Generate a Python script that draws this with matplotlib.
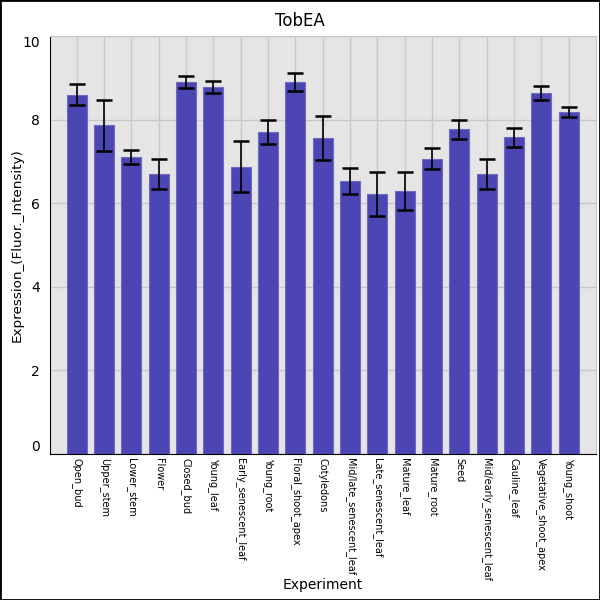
import matplotlib
matplotlib.use("Agg")
from matplotlib import pyplot as plt
from matplotlib.patches import Rectangle

experiments = ["Open_bud", "Upper_stem", "Lower_stem", "Flower", "Closed_bud",
               "Young_leaf", "Early_senescent_leaf", "Young_root", "Floral_shoot_apex",
               "Cotyledons", "Mid/late_senescent_leaf", "Late_senescent_leaf",
               "Mature_leaf", "Mature_root", "Seed", "Mid/early_senescent_leaf",
               "Cauline_leaf", "Vegetative_shoot_apex", "Young_shoot"]
expression = [8.60, 7.86, 7.11, 6.70, 8.90, 8.78, 6.87, 7.70, 8.90, 7.56,
              6.53, 6.22, 6.29, 7.06, 7.77, 6.70, 7.58, 8.64, 8.18]
errors = [0.24, 0.60, 0.17, 0.36, 0.14, 0.15, 0.61, 0.28, 0.21, 0.53,
          0.31, 0.53, 0.45, 0.25, 0.23, 0.35, 0.23, 0.16, 0.11]
yticks = [0, 2, 4, 6, 8, 10]

fig = plt.figure(figsize=(6, 6), dpi=100)
ax = fig.add_axes([0.0825, 0.2433, 0.9108, 0.6967])
ax.set_facecolor("#e5e5e5")

x = list(range(len(experiments)))
ax.bar(x, expression, width=0.73, color="#4b46b3", edgecolor="#6f6ac4",
       linewidth=0.8, zorder=2)
ax.errorbar(x, expression, yerr=errors, fmt="none", ecolor="black",
            elinewidth=1.2, capsize=6, capthick=1.8, zorder=3)

ax.set_xlim(-1, len(experiments))
ax.set_ylim(0, 10)
ax.set_xticks(x)
ax.set_xticklabels(experiments, rotation=270, fontsize=7, va="top", ha="center")
ax.set_yticks(yticks)
ax.set_yticklabels([str(t) for t in yticks], fontsize=10)
labs = ax.get_yticklabels()
labs[0].set_va("bottom")
labs[-1].set_va("top")
ax.tick_params(axis="both", length=0)
ax.tick_params(axis="y", pad=7)
ax.tick_params(axis="x", pad=3)

ax.grid(True, color="#c8c8c8", linewidth=1)
ax.set_axisbelow(True)
for s in ["top", "right"]:
    ax.spines[s].set_color("#c8c8c8")
for s in ["left", "bottom"]:
    ax.spines[s].set_color("black")

ax.set_xlabel("Experiment", fontsize=10)
ax.set_ylabel("Expression_(Fluor._Intensity)", fontsize=9.7)
ax.xaxis.set_label_coords(0.5, -0.297)
ax.yaxis.set_label_coords(-0.047, 0.5)
fig.text(0.5, 0.965, "TobEA", ha="center", va="center", fontsize=12)

fig.patches.append(Rectangle((0, 0), 1, 1, transform=fig.transFigure,
                             fill=False, edgecolor="black", linewidth=2))

fig.savefig("out.png", dpi=100)
